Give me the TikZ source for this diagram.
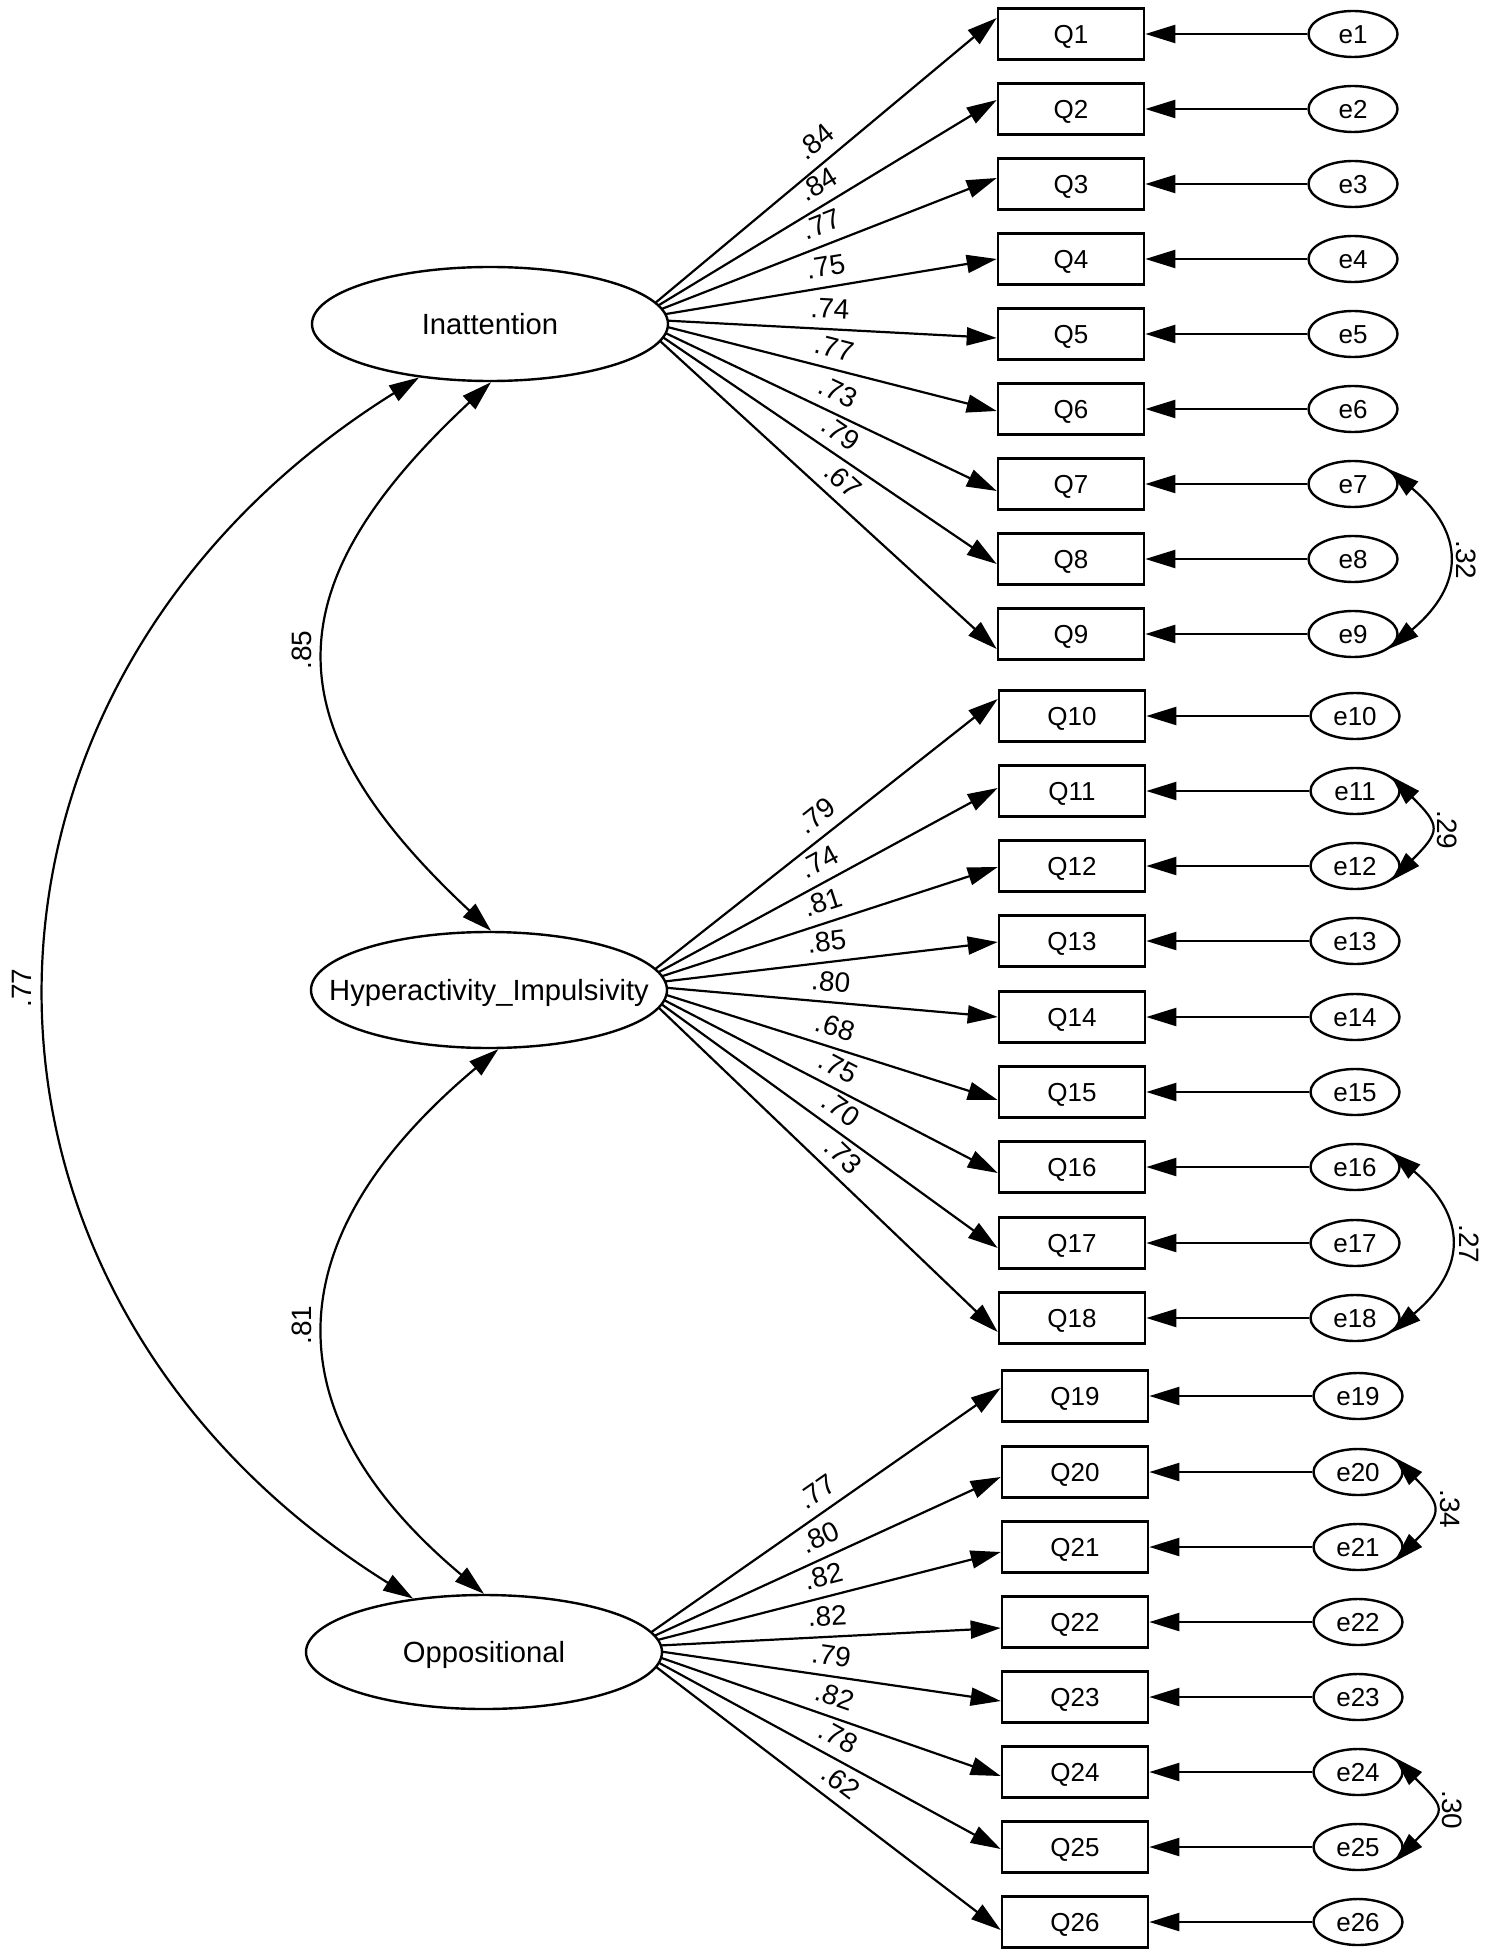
\documentclass[tikz,border=0pt]{standalone}
\usepackage{fontspec}
\setmainfont{Liberation Sans}
\usetikzlibrary{arrows.meta,calc,backgrounds,shapes.geometric}
\begin{document}
\begin{tikzpicture}[x=0.5pt,y=0.5pt,
  tip/.tip={Triangle[length=15pt,width=9pt]},
  lat/.style={ellipse,draw,line width=1.2pt,fill=white,minimum width=178pt,minimum height=57pt,inner sep=0pt},
  latxt/.style={inner sep=0pt,text height=10.4pt,text depth=0pt,font=\fontsize{14.6}{16}\selectfont},
  obs/.style={rectangle,draw,line width=1.3pt,fill=white,minimum width=73pt,minimum height=25.5pt,inner sep=0pt,text height=9.3pt,text depth=0pt,font=\fontsize{13}{15}\selectfont},
  err/.style={ellipse,draw,line width=1.2pt,fill=white,minimum width=44.5pt,minimum height=23pt,inner sep=0pt,text height=9.3pt,text depth=0pt,font=\fontsize{13}{15}\selectfont},
  arr/.style={line width=1.1pt,-tip},
  cov/.style={line width=1.1pt,tip-tip},
  lab/.style={sloped,above=5pt,inner sep=0pt,text height=10pt,text depth=0pt,font=\fontsize{14}{16}\selectfont},
  vlab/.style={inner sep=0pt,text height=10pt,text depth=0pt,font=\fontsize{14}{16}\selectfont}]
\useasboundingbox (0,0) rectangle (1488,-1957);

% latent variables
\node[lat] (I) at (490,-324) {};
\node[latxt] (Itxt) at (I.center) {Inattention};
\node[lat,minimum height=58pt] (H) at (489,-990) {};
\node[latxt] (Htxt) at (H.center) {Hyperactivity\_Impulsivity};
\node[lat] (O) at (484,-1652) {};
\node[latxt] (Otxt) at (O.center) {Oppositional};

\coordinate (Ic) at ($(I.center)+(146,5)$);
\coordinate (Hc) at ($(H.center)+(146,5)$);
\coordinate (Oc) at ($(O.center)+(146,5)$);

% group 1
\foreach \i/\y/\o/\v in {1/34/16/.84,2/109/9/.84,3/184/6/.77,4/259/0/.75,5/334/-4/.74,6/409/-2/.77,7/484/-7/.73,8/559/-5/.79,9/634/-15/.67}{
  \node[obs] (Q\i) at (1071,-\y) {Q\i};
  \node[err] (e\i) at (1353,-\y) {e\i};
  \draw[arr] (e\i.west) -- (Q\i.east);
  \begin{pgfonlayer}{background}
    \draw[arr] (Ic) -- node[lab,pos=.535]{\v} ($(Q\i.west)+(0,\o)$);
  \end{pgfonlayer}
}
% group 2
\foreach \i/\y/\o/\v in {10/716/17/.79,11/791/3/.74,12/866/-1/.81,13/941/-1/.85,14/1017/0/.80,15/1092/-8/.68,16/1167/-6/.75,17/1243/-5/.70,18/1318/-14/.73}{
  \node[obs] (Q\i) at (1072,-\y) {Q\i};
  \node[err] (e\i) at (1355,-\y) {e\i};
  \draw[arr] (e\i.west) -- (Q\i.east);
  \begin{pgfonlayer}{background}
    \draw[arr] (Hc) -- node[lab,pos=.535]{\v} ($(Q\i.west)+(0,\o)$);
  \end{pgfonlayer}
}
% group 3
\foreach \i/\y/\o/\v in {19/1396/8/.77,20/1472/-5/.80,21/1547/-5/.82,22/1622/-6/.82,23/1697/-4/.79,24/1772/-4/.82,25/1847/-2/.78,26/1922/-8/.62}{
  \node[obs] (Q\i) at (1075,-\y) {Q\i};
  \node[err] (e\i) at (1358,-\y) {e\i};
  \draw[arr] (e\i.west) -- (Q\i.east);
  \begin{pgfonlayer}{background}
    \draw[arr] (Oc) -- node[lab,pos=.535]{\v} ($(Q\i.west)+(0,\o)$);
  \end{pgfonlayer}
}

% latent covariances
\draw[cov] (I.-89) .. controls +(223:301) and +(137:301) .. (H.88);
\draw[cov] (H.-81) .. controls +(220:287) and +(140:287) .. (O.90);
\draw[cov] (I.217) .. controls +(212:579) and +(148:579) .. (O.143);
\node[vlab,rotate=90] (c85) at (301,-650) {.85};
\node[vlab,rotate=90] (c81) at (301,-1325) {.81};
\node[vlab,rotate=90] (c77) at (22,-988) {.77};

% error covariances
\draw[cov] (e7.22) .. controls +(-40:99) and +(40:99) .. (e9.-22);
\draw[cov] (e11.22) .. controls +(-45:70) and +(45:70) .. (e12.-22);
\draw[cov] (e16.22) .. controls +(-40:99) and +(40:99) .. (e18.-22);
\draw[cov] (e20.22) .. controls +(-45:68) and +(45:68) .. (e21.-22);
\draw[cov] (e24.22) .. controls +(-45:74) and +(45:74) .. (e25.-22);
\node[vlab,rotate=-90] (c32) at (1466,-560) {.32};
\node[vlab,rotate=-90] (c29) at (1447,-830) {.29};
\node[vlab,rotate=-90] (c27) at (1469,-1244) {.27};
\node[vlab,rotate=-90] (c34) at (1450,-1509) {.34};
\node[vlab,rotate=-90] (c30) at (1452,-1810) {.30};
\end{tikzpicture}
\end{document}
